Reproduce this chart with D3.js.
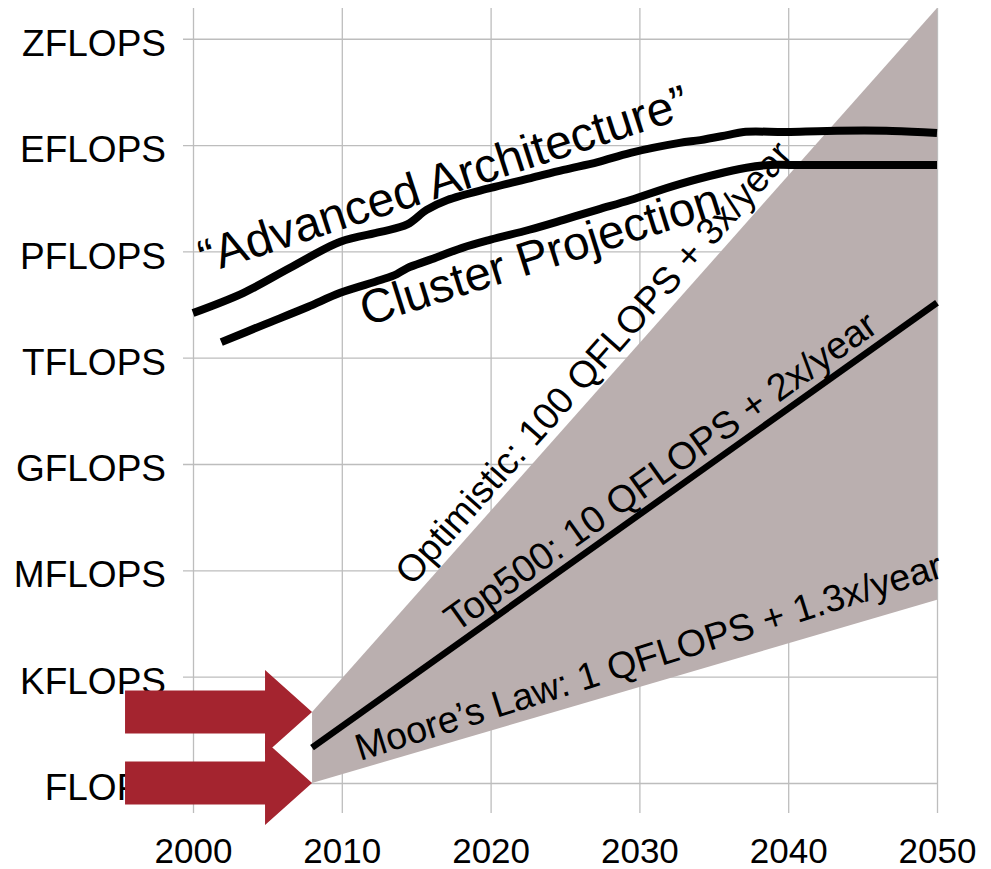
<!DOCTYPE html>
<html>
<head>
<meta charset="utf-8">
<script src="https://cdn.jsdelivr.net/npm/d3@7/dist/d3.min.js"></script>
<style>
  html, body { margin: 0; padding: 0; background: #fff; }
  svg { display: block; font-family: "Liberation Sans", Arial, sans-serif; }
</style>
</head>
<body>
<svg id="chart" width="991" height="869"></svg>
<script>
// Axis ticks
const years = [2000, 2010, 2020, 2030, 2040, 2050];
const levelLabels = ["FLOPS", "KFLOPS", "MFLOPS", "GFLOPS", "TFLOPS", "PFLOPS", "EFLOPS", "ZFLOPS"];
const levelExponents = [0, 3, 6, 9, 12, 15, 18, 21];   // log10 of FLOPS

// "Advanced Architecture" projection (year, log10 FLOPS)
const advancedYears = [2000.0, 2003.4, 2006.5, 2009.9, 2012.6, 2014.4, 2015.7, 2017.1, 2020.0, 2022.7, 2024.9, 2027.2, 2029.4, 2032.7, 2034.1, 2035.9, 2037.0, 2039.9, 2042.6, 2047.0, 2050.0];
const advancedLog   = [13.26, 13.83, 14.53, 15.27, 15.55, 15.76, 16.17, 16.45, 16.79, 17.07, 17.30, 17.52, 17.78, 18.06, 18.14, 18.28, 18.37, 18.37, 18.40, 18.40, 18.34];

// Cluster projection
const clusterYears = [2001.9, 2004.7, 2007.7, 2009.9, 2012.6, 2013.7, 2014.4, 2015.9, 2018.1, 2020.0, 2022.6, 2024.9, 2027.2, 2029.4, 2032.7, 2037.2, 2038.8, 2040.1, 2050.0];
const clusterLog   = [12.44, 12.92, 13.43, 13.83, 14.19, 14.36, 14.53, 14.76, 15.10, 15.33, 15.61, 15.89, 16.18, 16.45, 16.90, 17.36, 17.44, 17.44, 17.44];

// Quantum scenarios, start and end of each band edge
const quantumYears = [2008, 2050];
const optimisticLog = [2, 21.87];   // 100 QFLOPS + 3x/year
const top500Log     = [1, 13.55];   // 10 QFLOPS + 2x/year
const mooreLog      = [0, 5.17];    // 1 QFLOPS + 1.3x/year

// Arrows point at the starting levels of the band
const arrowYear = 2008;
const arrowLevels = [2, 0];

const svg = d3.select("#chart");
const FONT = "'Liberation Sans', Arial, sans-serif";

const x = d3.scaleLinear().domain([2000, 2050]).range([193, 937]);
const y = d3.scaleLinear().domain([-0.85, 21.87]).range([813.1, 7.9]);

const gridColor = "#bdbdbd";

// vertical grid + year labels
const xAxis = svg.append("g")
  .attr("transform", `translate(0,${y(-0.85)})`)
  .call(d3.axisBottom(x).tickValues(years).tickFormat(d3.format("d"))
        .tickSizeInner(-(y(-0.85) - y(21.87))).tickSizeOuter(0).tickPadding(25));
xAxis.select(".domain").remove();
xAxis.selectAll(".tick line").attr("stroke", gridColor).attr("stroke-width", 1.3);
xAxis.selectAll(".tick text")
  .attr("fill", "#000").style("font-family", FONT).style("font-size", "35px");

// horizontal grid + level labels
const yAxis = svg.append("g")
  .attr("transform", `translate(${x(2000) - 10},0)`)
  .call(d3.axisLeft(y).tickValues(levelExponents)
        .tickFormat((d, i) => levelLabels[i])
        .tickSizeInner(-(x(2050) - x(2000) + 10)).tickSizeOuter(0).tickPadding(17));
yAxis.select(".domain").remove();
yAxis.selectAll(".tick line").attr("stroke", gridColor).attr("stroke-width", 1.3);
yAxis.selectAll(".tick text")
  .attr("fill", "#000").attr("dy", "0.45em")
  .style("font-family", FONT).style("font-size", "37px");

// shaded band between the optimistic and Moore's-law edges
const band = quantumYears.map((yr, i) => [yr, optimisticLog[i]])
  .concat(quantumYears.slice().reverse().map((yr, j) => [yr, mooreLog[quantumYears.length - 1 - j]]));
svg.append("path")
  .attr("d", d3.line().x(d => x(d[0])).y(d => y(d[1]))(band) + "Z")
  .attr("fill", "#baafaf");

// Top500 line
svg.append("path")
  .datum(quantumYears.map((yr, i) => [yr, top500Log[i]]))
  .attr("d", d3.line().x(d => x(d[0])).y(d => y(d[1])))
  .attr("fill", "none").attr("stroke", "#000").attr("stroke-width", 6.5);

// projection curves
const curve = d3.line().curve(d3.curveCatmullRom.alpha(0.5)).x(d => x(d[0])).y(d => y(d[1]));
svg.append("path")
  .datum(advancedYears.map((yr, i) => [yr, advancedLog[i]]))
  .attr("d", curve).attr("fill", "none").attr("stroke", "#000").attr("stroke-width", 8);
svg.append("path")
  .datum(clusterYears.map((yr, i) => [yr, clusterLog[i]]))
  .attr("d", curve).attr("fill", "none").attr("stroke", "#000").attr("stroke-width", 8);

// labels
const labels = [
  { text: "\u201CAdvanced Architecture\u201D", yr: 2000.81, v: 14.36, angle: -18, size: 48 },
  { text: "Cluster Projection", yr: 2011.63, v: 12.89, angle: -17.5, size: 47.5 },
  { text: "Optimistic: 100 QFLOPS + 3x/year", yr: 2014.72, v: 5.53, angle: -48.5, size: 37.5 },
  { text: "Top500: 10 QFLOPS + 2x/year", yr: 2017.67, v: 4.23, angle: -35.5, size: 38 },
  { text: "Moore\u2019s Law: 1 QFLOPS + 1.3x/year", yr: 2011.22, v: 0.62, angle: -17.5, size: 37.5 }
];
svg.append("g").selectAll("text").data(labels).join("text")
  .attr("transform", d => `translate(${x(d.yr)},${y(d.v)}) rotate(${d.angle})`)
  .attr("fill", "#000")
  .style("font-family", FONT)
  .style("font-size", d => d.size + "px")
  .text(d => d.text);

// block arrows pointing at the band's starting levels
const shaftLen = 140, headLen = 47, shaftHalf = 21.5, headHalf = 42;
svg.append("g").selectAll("path").data(arrowLevels).join("path")
  .attr("d", v => {
    const tx = x(arrowYear), ty = y(v);
    const p = d3.path();
    p.moveTo(tx - headLen - shaftLen, ty - shaftHalf);
    p.lineTo(tx - headLen, ty - shaftHalf);
    p.lineTo(tx - headLen, ty - headHalf);
    p.lineTo(tx, ty);
    p.lineTo(tx - headLen, ty + headHalf);
    p.lineTo(tx - headLen, ty + shaftHalf);
    p.lineTo(tx - headLen - shaftLen, ty + shaftHalf);
    p.closePath();
    return p.toString();
  })
  .attr("fill", "#a4242f");
</script>
</body>
</html>
